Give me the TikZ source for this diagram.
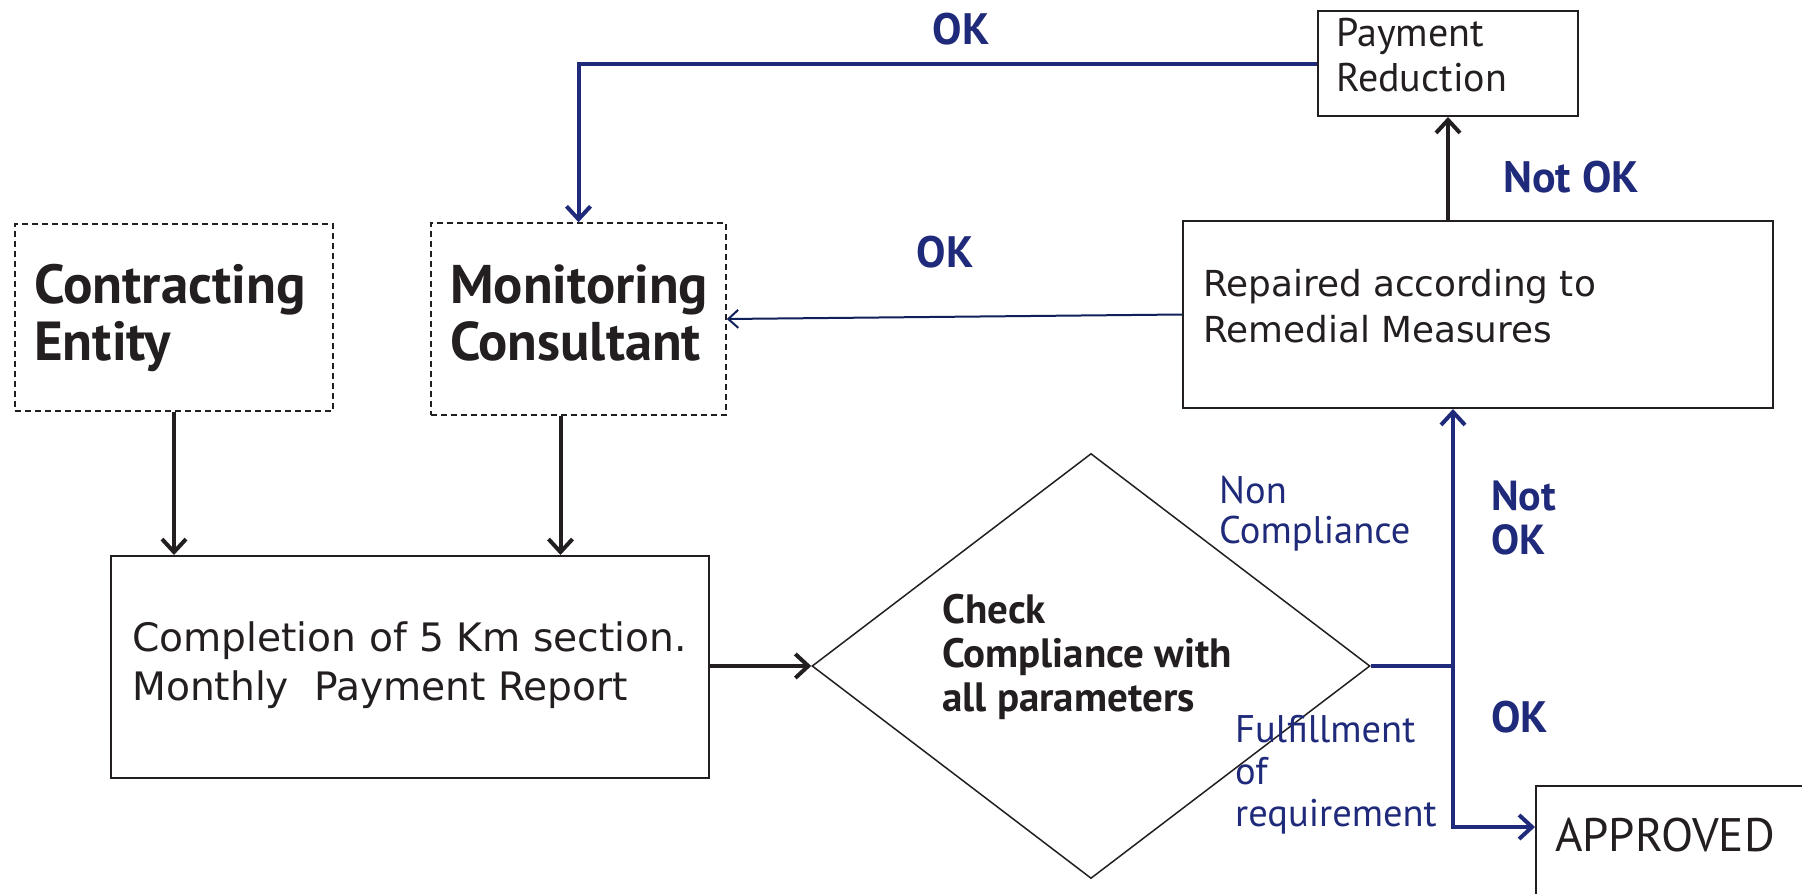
\documentclass[tikz,border=0pt]{standalone}
\usepackage{fontspec}
\setmainfont{DejaVu Sans}
\newfontfamily\myr{PT Sans}
\usetikzlibrary{arrows.meta,shapes.geometric}
\definecolor{navy}{RGB}{31,42,122}
\definecolor{deepnavy}{RGB}{16,32,90}
\definecolor{ink}{RGB}{35,31,32}
\begin{document}
\begin{tikzpicture}[x=1pt,y=-1pt,
  box/.style={draw=ink,line width=2pt,inner sep=0pt},
  dbox/.style={draw=ink,line width=1.5pt,dash pattern=on 6pt off 4pt,inner sep=0pt},
  txt/.style={inner sep=0pt,anchor=west,align=left,text=ink},
  lbl/.style={inner sep=0pt,anchor=west,align=left,text=navy},
  okfont/.style={font=\myr\bfseries\fontsize{44}{48}\selectfont},
  arr/.style={draw=ink,line width=4pt,-{Straight Barb[length=13pt,width=24pt]}},
  barr/.style={draw=navy,line width=4pt,-{Straight Barb[length=13pt,width=24pt]}},
  thinarr/.style={draw=deepnavy,line width=2pt,-{Straight Barb[length=10pt,width=18pt]}},
  bline/.style={draw=navy,line width=4pt}]
\path[use as bounding box] (0,0) rectangle (1802,894);
\clip (0,0) rectangle (1802,894);
\fill[white] (0,0) rectangle (1802,894);

% boxes
\node[dbox,minimum width=318pt,minimum height=187pt] (ce) at (174,317.5) {};
\node[dbox,minimum width=295pt,minimum height=192pt] (mc) at (578.5,319) {};
\node[box,minimum width=260pt,minimum height=105pt] (pr) at (1448,63.5) {};
\node[box,minimum width=590pt,minimum height=187pt] (rm) at (1478,314.5) {};
\node[box,minimum width=598pt,minimum height=222pt] (comp) at (410,667) {};
\node[draw=ink,line width=1.5pt,shape=diamond,inner sep=0pt,minimum width=558pt,minimum height=425pt] (dia) at (1091,666) {};
\node[box,minimum width=300pt,minimum height=140pt,anchor=north west] (ap) at (1535,785) {};

% texts
\node[txt,font=\myr\bfseries\fontsize{55}{57}\selectfont] (cet) at (34,318) {Contracting\\Entity};
\node[txt,font=\myr\bfseries\fontsize{54.5}{57}\selectfont] (mct) at (450,313) {Monitoring\\Consultant};
\node[txt,font=\myr\fontsize{40}{45}\selectfont] (prt) at (1336,55) {Payment\\Reduction};
\node[txt,font=\fontsize{35.8}{46}\selectfont] (rmt) at (1203,306) {Repaired according to\\Remedial Measures};
\node[txt,font=\fontsize{39.2}{49}\selectfont] (compt) at (132,665) {Completion of 5 Km section.\\Monthly\ \ Payment Report};
\node[txt,font=\myr\bfseries\fontsize{41}{44}\selectfont] (diat) at (942,657) {Check\\Compliance with\\all parameters};
\node[txt,font=\myr\fontsize{47}{50}\selectfont] (apt) at (1555,835) {APPROVED};

% connectors
\draw[arr] (ce.south) -- (ce.south |- comp.north);
\draw[arr] ([xshift=-18pt]mc.south) -- ([xshift=-18pt]mc.south |- comp.north);
\draw[arr] (dia.west -| comp.east) -- (dia.west);
\draw[arr] (rm.north -| pr.south) -- (pr.south);
\draw[barr] (pr.west) -| (mc.north);
\draw[thinarr] (rm.west) -- (mc.east);
\coordinate (j) at (1453,666);
\coordinate (k) at (1453,827);
\draw[bline] (dia.east) -- (j);
\draw[barr] (j) -- (j |- rm.south);
\draw[barr] (j) -- (k) -- (k -| ap.west);

% labels
\node[lbl,anchor=center,okfont] (l1) at (961,29) {OK};
\node[lbl,anchor=center,okfont] (l2) at (1571,177) {Not OK};
\node[lbl,anchor=center,okfont] (l3) at (945,252) {OK};
\node[lbl,font=\myr\fontsize{38.5}{40}\selectfont] (l4) at (1219,514) {Non\\Compliance};
\node[lbl,font=\myr\bfseries\fontsize{42}{44}\selectfont] (l5) at (1491,518) {Not\\OK};
\node[lbl,okfont] (l6) at (1491,717) {OK};
\node[lbl,font=\myr\fontsize{38.5}{42}\selectfont] (l7) at (1235,775) {Fulfillment\\of\\requirement};
\end{tikzpicture}
\end{document}
